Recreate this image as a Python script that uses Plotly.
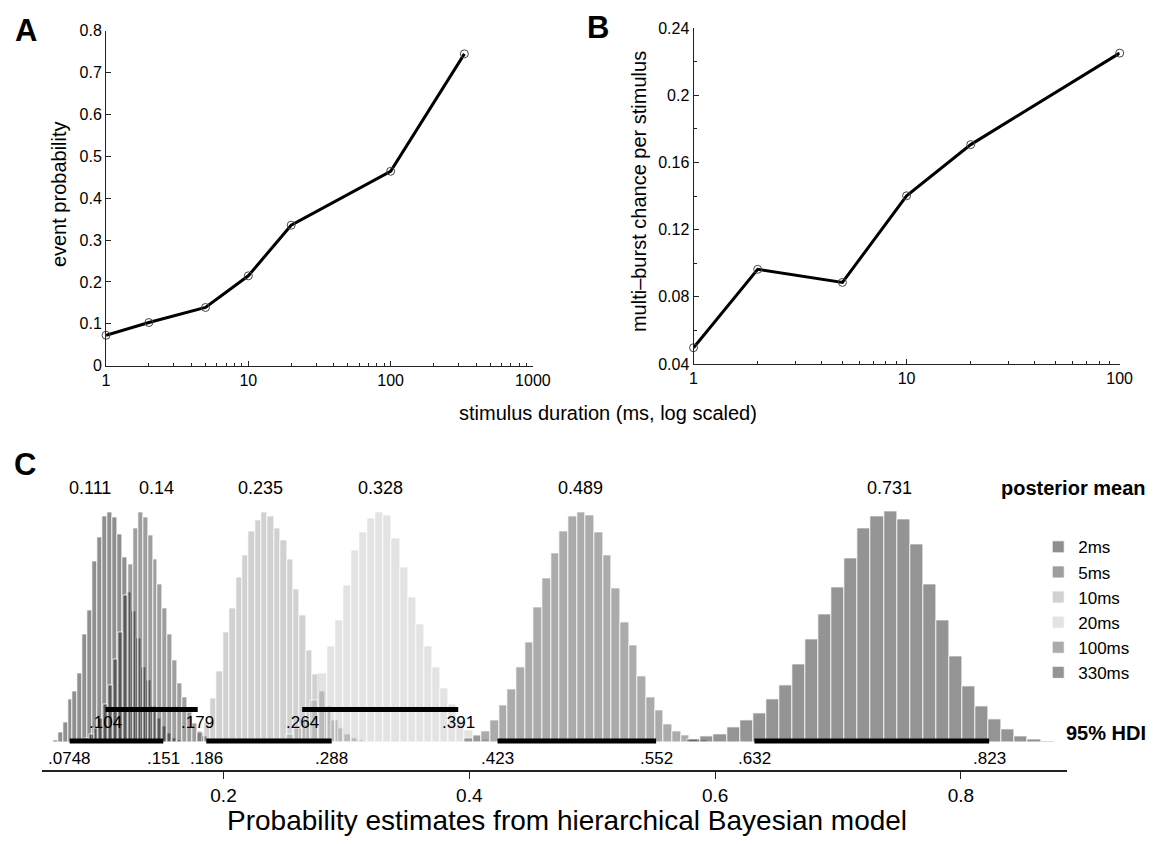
import plotly.graph_objects as go

W, H = 1173, 844
FONT = "Liberation Sans, Arial, Helvetica, sans-serif"

# ---------------- Panel A data ----------------
durations_a = [1, 2, 5, 10, 20, 100, 330]
event_prob = [0.0726, 0.103, 0.139, 0.2146, 0.3356, 0.4644, 0.745]

# ---------------- Panel B data ----------------
durations_b = [1, 2, 5, 10, 20, 100]
multi_burst = [0.0497, 0.0964, 0.0886, 0.1402, 0.1707, 0.2252]

# ---------------- Panel C data (histograms) ----------------
series_names = ["2ms", "5ms", "10ms", "20ms", "100ms", "330ms"]
bin_start = [0.0613, 0.0825, 0.1788, 0.2511, 0.3959, 0.5776]
bin_width = [0.0040, 0.0040, 0.0052, 0.0066, 0.00705, 0.010645]
counts_2ms = [2, 10, 20, 43, 52, 70, 110, 134, 184, 209, 230, 234, 229, 212, 188,
              153, 133, 106, 76, 63, 36, 24, 16, 9, 4, 2]
counts_5ms = [2, 4, 8, 14, 24, 38, 58, 84, 112, 150, 181, 218, 234, 229, 211, 186,
              161, 136, 110, 83, 60, 45, 30, 19, 11, 6, 3, 1]
counts_10ms = [10, 20, 44, 72, 112, 136, 168, 190, 215, 226, 234, 230, 218, 206, 186,
               156, 129, 93, 69, 52, 36, 22, 14, 8, 4, 2]
counts_20ms = [8, 14, 24, 42, 70, 98, 124, 160, 196, 214, 228, 234, 231, 208, 178,
               148, 120, 98, 76, 55, 38, 22, 12, 6, 3]
counts_100ms = [4, 7, 11, 22, 37, 54, 76, 102, 137, 167, 192, 215, 230, 234, 231, 214,
                190, 157, 122, 99, 67, 46, 32, 18, 11, 7, 3, 2]
counts_330ms = [3, 6, 8, 15, 22, 29, 43, 58, 79, 105, 130, 158, 187, 218, 230, 235,
                227, 202, 161, 124, 87, 57, 36, 23, 13, 6, 3, 1]
all_counts = [counts_2ms, counts_5ms, counts_10ms, counts_20ms, counts_100ms, counts_330ms]
posterior_mean = [0.111, 0.14, 0.235, 0.328, 0.489, 0.731]
hdi_low = [0.0748, 0.104, 0.186, 0.264, 0.423, 0.632]
hdi_high = [0.151, 0.179, 0.288, 0.391, 0.552, 0.823]
hdi_low_text = [".0748", ".104", ".186", ".264", ".423", ".632"]
hdi_high_text = [".151", ".179", ".288", ".391", ".552", ".823"]
hdi_row = [0, 1, 0, 1, 0, 0]          # 0 = lower row, 1 = upper row
c_ticks = [0.2, 0.4, 0.6, 0.8]

# styles
fill_colors = ["rgba(0,0,0,0.44)", "rgba(0,0,0,0.38)", "rgba(0,0,0,0.18)",
               "rgba(0,0,0,0.11)", "rgba(0,0,0,0.33)", "rgba(0,0,0,0.42)"]
mean_xshift = [-24, 7, -6, 0, 2, 13]
row_y = [1, 33]
row_label_y = [-17, 20]


def px(x):
    return x / W


def py(y):
    return 1 - y / H


fig = go.Figure()

# Panel A
fig.add_trace(go.Scatter(
    x=durations_a, y=event_prob, mode="lines+markers", xaxis="x", yaxis="y",
    line=dict(color="black", width=3),
    marker=dict(symbol="circle-open", size=8, color="#444", line=dict(width=1)),
    cliponaxis=False, showlegend=False))

# Panel B
fig.add_trace(go.Scatter(
    x=durations_b, y=multi_burst, mode="lines+markers", xaxis="x2", yaxis="y2",
    line=dict(color="black", width=3),
    marker=dict(symbol="circle-open", size=8, color="#444", line=dict(width=1)),
    cliponaxis=False, showlegend=False))

# Panel C histograms
for name, start, w, cnts, col in zip(series_names, bin_start, bin_width, all_counts, fill_colors):
    centers = [start + (i + 0.5) * w for i in range(len(cnts))]
    fig.add_trace(go.Bar(
        x=centers, y=cnts, width=w, name=name, xaxis="x3", yaxis="y3",
        marker=dict(color=col, line=dict(color="white", width=0.8))))

# HDI lines
for lo, hi, r in zip(hdi_low, hdi_high, hdi_row):
    fig.add_trace(go.Scatter(
        x=[lo, hi], y=[row_y[r], row_y[r]], mode="lines", xaxis="x3", yaxis="y3",
        line=dict(color="black", width=5), showlegend=False, cliponaxis=False))

annotations = []
# posterior means
for m, s in zip(posterior_mean, mean_xshift):
    annotations.append(dict(x=m, y=259, xref="x3", yref="y3", text=f"{m:g}",
                            showarrow=False, xshift=s, xanchor="center", yanchor="middle",
                            font=dict(size=18, family=FONT, color="black")))
# HDI labels
for lo, hi, lt, ht, r in zip(hdi_low, hdi_high, hdi_low_text, hdi_high_text, hdi_row):
    for v, t in ((lo, lt), (hi, ht)):
        annotations.append(dict(x=v, y=row_label_y[r], xref="x3", yref="y3", text=t,
                                showarrow=False, xanchor="center", yanchor="middle",
                                font=dict(size=17, family=FONT, color="black")))

# static texts
static = [
    dict(x=px(22), y=py(23), text="<b>A</b>", font=dict(size=31, family=FONT)),
    dict(x=px(605), y=py(20), text="<b>B</b>", font=dict(size=31, family=FONT)),
    dict(x=px(21), y=py(466), text="<b>C</b>", font=dict(size=31, family=FONT)),
    dict(x=px(56), y=py(190), text="event probability", textangle=-90,
         font=dict(size=20, family=FONT)),
    dict(x=px(647), y=py(187), text="multi\u2013burst chance per stimulus", textangle=-90,
         font=dict(size=20, family=FONT)),
    dict(x=px(616), y=py(413), text="stimulus duration (ms, log scaled)",
         font=dict(size=20, family=FONT)),
    dict(x=px(1089), y=py(490), text="<b>posterior mean</b>", font=dict(size=20, family=FONT)),
    dict(x=px(1123), y=py(740), text="<b>95% HDI</b>", font=dict(size=20, family=FONT)),
    dict(x=px(574), y=py(829), text="Probability estimates from hierarchical Bayesian model",
         font=dict(size=28, family=FONT)),
]
for a in static:
    a.update(xref="paper", yref="paper", showarrow=False, xanchor="center", yanchor="middle")
    a["font"]["color"] = "black"
annotations += static

minor_a = [d * 10 ** e for e in range(3) for d in range(2, 10)]
minor_b = [d * 10 ** e for e in range(2) for d in range(2, 10)]

axis_common = dict(showline=True, linecolor="#222", linewidth=1, showgrid=False,
                   zeroline=False, ticks="inside", tickcolor="#222", ticklen=5,
                   tickfont=dict(size=16, family=FONT, color="black"))

fig.update_layout(
    width=W, height=H, margin=dict(l=0, r=0, t=0, b=0),
    paper_bgcolor="white", plot_bgcolor="rgba(0,0,0,0)",
    barmode="overlay", bargap=0,
    font=dict(family=FONT, color="black"),
    xaxis=dict(domain=[px(104), px(539)], anchor="y", type="log", range=[0, 3],
               tickmode="array", tickvals=[1, 10, 100, 1000], ticktext=["1", "10", "100", "1000"],
               minor=dict(tickmode="array", tickvals=minor_a, ticks="inside", ticklen=3,
                          tickcolor="#222", showgrid=False),
               **axis_common),
    yaxis=dict(domain=[py(365), py(23.3)], anchor="x", range=[0, 0.8], dtick=0.1, tick0=0,
               **axis_common),
    xaxis2=dict(domain=[px(702.7), px(1137)], anchor="y2", type="log", range=[0, 2],
                tickmode="array", tickvals=[1, 10, 100], ticktext=["1", "10", "100"],
                minor=dict(tickmode="array", tickvals=minor_b, ticks="inside", ticklen=3,
                           tickcolor="#222", showgrid=False),
                **axis_common),
    yaxis2=dict(domain=[py(363.3), py(20.7)], anchor="x2", range=[0.04, 0.24], dtick=0.04,
                tick0=0.04,
                minor=dict(dtick=0.02, ticks="inside", ticklen=3, tickcolor="#222",
                           showgrid=False),
                **axis_common),
    xaxis3=dict(domain=[px(39), px(1083)], anchor="y3", range=[0.05254, 0.88607],
                showline=True, linecolor="#222", linewidth=1.5, showgrid=False, zeroline=False,
                ticks="outside", ticklen=7, tickcolor="#222", tickmode="array",
                tickvals=c_ticks, ticktext=[f"{t:g}" for t in c_ticks],
                tickfont=dict(size=19, family=FONT, color="black")),
    yaxis3=dict(domain=[py(778), py(480)], anchor="x3", range=[-29, 269], visible=False),
    legend=dict(x=px(1054), y=py(532), xanchor="left", yanchor="top",
                font=dict(size=17, family=FONT, color="black"), itemwidth=30,
                bgcolor="rgba(0,0,0,0)", tracegroupgap=0),
    annotations=annotations,
)

fig.write_html("out.html")
